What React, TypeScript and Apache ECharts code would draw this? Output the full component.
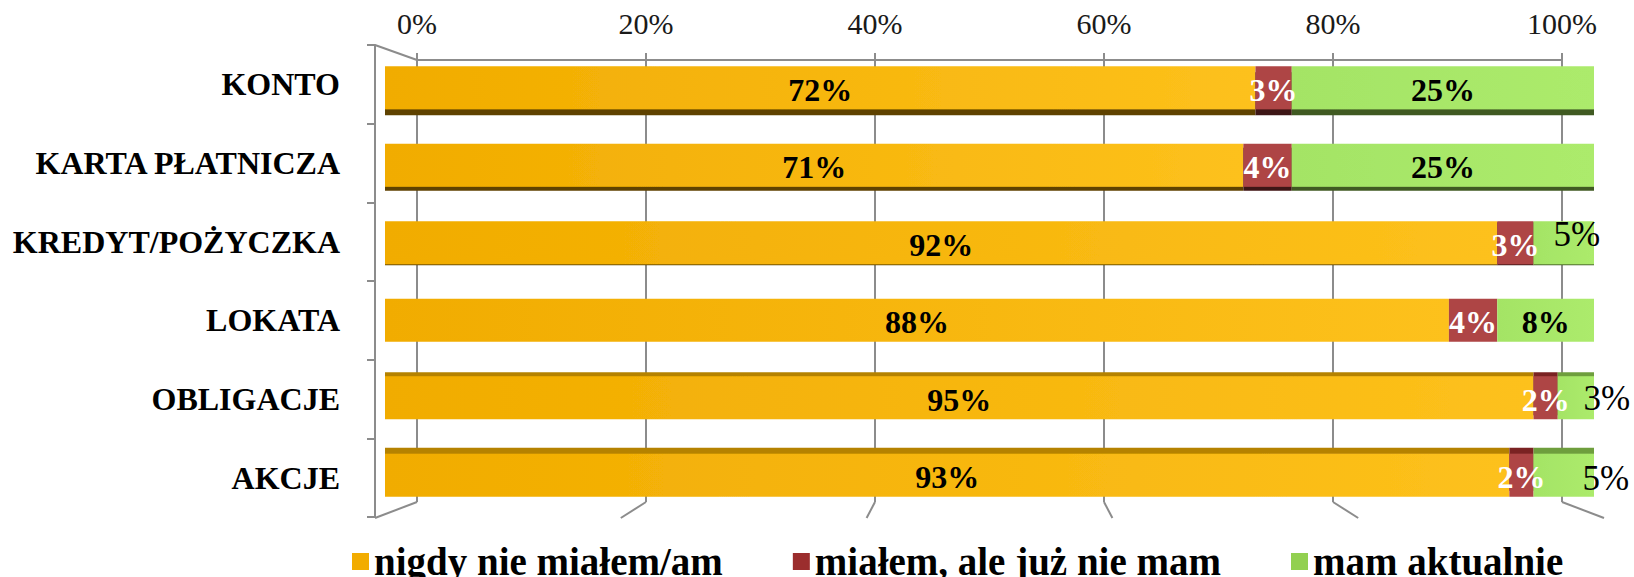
import React, { useEffect, useRef } from "react";
import * as echarts from "echarts";

const categories = ["KONTO", "KARTA PŁATNICZA", "KREDYT/POŻYCZKA", "LOKATA", "OBLIGACJE", "AKCJE"];
const seriesNames = ["nigdy nie miałem/am", "miałem, ale już nie mam", "mam aktualnie"];
const neverHad = [72, 71, 92, 88, 95, 93];
const hadBefore = [3, 4, 3, 4, 2, 2];
const haveNow = [25, 25, 5, 8, 3, 5];
const xTickValues = [0, 20, 40, 60, 80, 100];

const W = 1634;
const H = 577;
// layout (style)
const bar = { left: 385, right: 1594, top: 49, bottom: 514 };
const back = { left: 417, right: 1562, top: 60, bottom: 502 };
const wall = { x: 375, top: 45, bottom: 517 };
const floorFront = { left: 375, right: 1604, y: 518 };
const depth = [6, 4, 1, 0, -4, -6];

const seriesColors = [
  new echarts.graphic.LinearGradient(0, 0, 1, 0, [
    { offset: 0, color: "#F1AC00" },
    { offset: 1, color: "#FDC11C" },
  ]),
  "#AE4545",
  new echarts.graphic.LinearGradient(0, 0, 1, 0, [
    { offset: 0, color: "#A4E465" },
    { offset: 1, color: "#ACEB6C" },
  ]),
];
const legendColors = ["#F2AC00", "#9B2D2D", "#92D050"];
const faceDark = ["#5E4300", "#3E1414", "#3F5A20"];
const faceTop = ["#B58200", "#7A2424", "#6E9E3E"];
const labelColors = ["#000000", "#FFFFFF", "#000000"];

export default function App() {
  const ref = useRef<HTMLDivElement>(null);

  useEffect(() => {
    if (!ref.current) return;
    const chart = echarts.init(ref.current, undefined, { renderer: "svg" });
    const values = [neverHad, hadBefore, haveNow];

    const series = values.map((arr, s) => ({
      type: "bar",
      name: seriesNames[s],
      stack: "total",
      xAxisIndex: 0,
      yAxisIndex: 0,
      barWidth: 43,
      data: arr.map((v, i) => {
        const d = depth[i];
        const item: any = {
          value: v,
          itemStyle: {
            color: seriesColors[s],
            shadowColor: d >= 0 ? faceDark[s] : faceTop[s],
            shadowOffsetY: d,
            shadowOffsetX: 0,
            shadowBlur: 0,
          },
        };
        // small green labels that sit beside the bar
        if (s === 2 && v <= 5) {
          const off = i === 2 ? [13, -8] : i === 4 ? [31, 1] : [42, 3];
          item.label = { offset: off, fontWeight: "normal", fontSize: 35 };
        }
        return item;
      }),
      label: {
        show: true,
        position: "inside",
        formatter: "{c}%",
        fontFamily: "Liberation Serif",
        fontWeight: "bold",
        fontSize: 32,
        color: labelColors[s],
        offset: [0, 2],
      },
      emphasis: { disabled: true },
    }));

    const gray = "#8C8C8C";
    const lines: any[] = [];
    // top-left wall edge
    lines.push({ x1: wall.x, y1: wall.top, x2: back.left, y2: back.top });
    // floor lines
    xTickValues.forEach((t) => {
      const p = t / 100;
      const bx = back.left + p * (back.right - back.left);
      const fx = floorFront.left + p * (floorFront.right - floorFront.left);
      lines.push({ x1: bx, y1: back.bottom, x2: fx, y2: floorFront.y });
    });

    chart.setOption({
      animation: false,
      grid: [
        { left: bar.left, right: W - bar.right, top: bar.top, bottom: H - bar.bottom, containLabel: false },
        { left: back.left, right: W - back.right, top: back.top, bottom: H - back.bottom, containLabel: false },
        { left: wall.x, width: 1, top: wall.top, bottom: H - wall.bottom, containLabel: false },
      ],
      xAxis: [
        { gridIndex: 0, type: "value", min: 0, max: 100, show: false },
        {
          gridIndex: 1,
          type: "value",
          min: 0,
          max: 100,
          interval: 20,
          position: "top",
          axisLine: { show: true, lineStyle: { color: gray, width: 2 } },
          axisTick: { show: true, length: 7, lineStyle: { color: gray, width: 2 } },
          splitLine: { show: true, lineStyle: { color: gray, width: 2 } },
          axisLabel: {
            formatter: (v: number) => `${v}%`,
            fontFamily: "Liberation Serif",
            fontSize: 30,
            color: "#1A1A1A",
            margin: 22,
          },
        },
        { gridIndex: 2, type: "value", show: false },
      ],
      yAxis: [
        { gridIndex: 0, type: "category", data: categories, inverse: true, show: false },
        { gridIndex: 1, type: "category", data: categories, inverse: true, show: false },
        {
          gridIndex: 2,
          type: "category",
          data: categories,
          inverse: true,
          axisLine: { show: true, lineStyle: { color: gray, width: 2 } },
          axisTick: { show: true, length: 8, lineStyle: { color: gray, width: 2 } },
          axisLabel: {
            fontFamily: "Liberation Serif",
            fontWeight: "bold",
            fontSize: 32,
            color: "#000000",
            margin: 35,
          },
        },
      ],
      legend: {
        left: 347,
        top: 537,
        icon: "rect",
        itemWidth: 17,
        itemHeight: 17,
        itemGap: 70,
        textStyle: { fontFamily: "Liberation Serif", fontWeight: "bold", fontSize: 39, color: "#000000" },
        data: seriesNames.map((n, i) => ({ name: n, itemStyle: { color: legendColors[i] } })),
        selectedMode: false,
      },
      graphic: lines.map((l) => ({
        type: "line",
        silent: true,
        shape: l,
        style: { stroke: gray, lineWidth: 2 },
      })),
      series,
    });

    return () => chart.dispose();
  }, []);

  return (
    <div
      ref={ref}
      style={{ position: "fixed", left: 0, top: 0, width: W, height: H, background: "#FFFFFF" }}
    />
  );
}
